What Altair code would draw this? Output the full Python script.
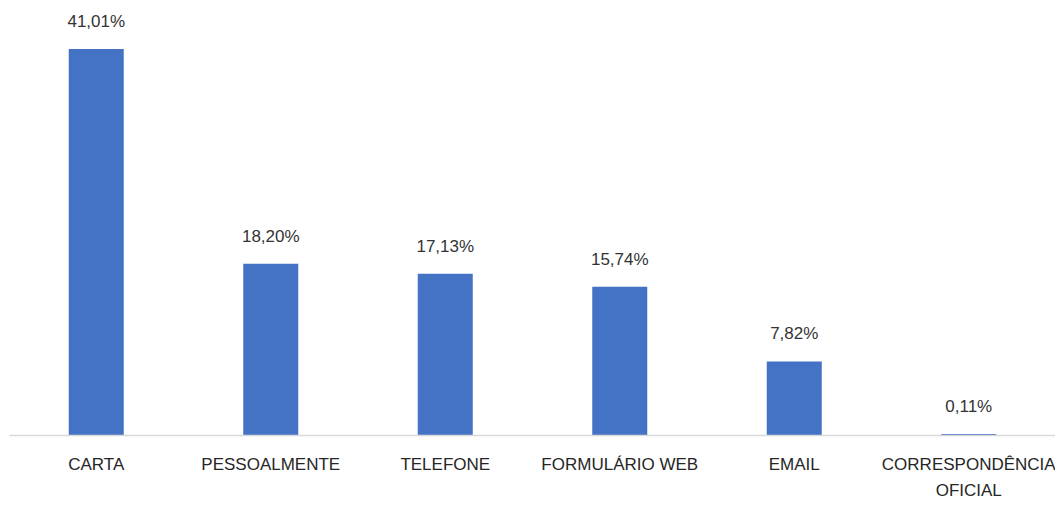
import altair as alt
import pandas as pd

categories = ["CARTA", "PESSOALMENTE", "TELEFONE", "FORMULÁRIO WEB", "EMAIL", "CORRESPONDÊNCIA OFICIAL"]
values = [41.01, 18.20, 17.13, 15.74, 7.82, 0.11]

df = pd.DataFrame({"canal": categories, "pct": values})

FONT = "Liberation Sans, sans-serif"

x = alt.X(
    "canal:N",
    sort=categories,
    title=None,
    scale=alt.Scale(paddingInner=0, paddingOuter=0, range=[1, 1048]),
    axis=alt.Axis(
        labelAngle=0,
        ticks=False,
        domainColor="#D9D9D9",
        domainWidth=1.5,
        labelPadding=21,
        labelFontSize=17,
        labelFont=FONT,
        labelColor="#262626",
        labelLineHeight=26,
        labelLimit=300,
        zindex=1,
        labelExpr="datum.label == 'CORRESPONDÊNCIA OFICIAL' ? ['CORRESPONDÊNCIA', 'OFICIAL'] : datum.label",
    ),
)
y = alt.Y("pct:Q", scale=alt.Scale(domain=[0, 45.37], nice=False, zero=True), axis=None)

bars = alt.Chart(df).mark_bar(size=55, color="#4472C4").encode(x=x, y=y)
labels = alt.Chart(df).transform_calculate(
    lbl="replace(format(datum.pct, '.2f'), '.', ',') + '%'"
).mark_text(
    dy=-18, fontSize=17, font=FONT, color="#333333", baseline="bottom"
).encode(x=x, y=y, text="lbl:N")

chart = (bars + labels).properties(
    width=1047, height=427,
    autosize=alt.AutoSizeParams(type="none"),
    padding={"left": 0, "top": 0, "right": 0, "bottom": 63},
    background="white",
).configure_view(strokeWidth=0, stroke=None)

chart.save("out.html", embed_options={"renderer": "svg", "actions": False})
